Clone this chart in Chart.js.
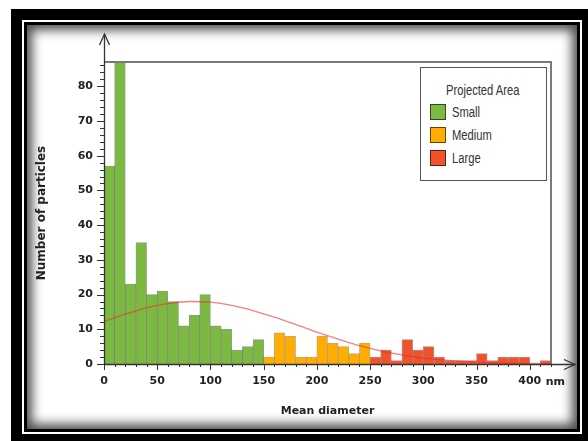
<!DOCTYPE html>
<html><head><meta charset="utf-8">
<script src="https://cdn.jsdelivr.net/npm/chart.js@4.4.1/dist/chart.umd.min.js"></script>
<style>
html,body{margin:0;padding:0;background:#fff;width:588px;height:441px;overflow:hidden;}
#outer{position:absolute;left:11px;top:9px;width:577px;height:432px;background:#000;}
#gap{position:absolute;left:22px;top:20px;width:560px;height:414px;background:#fff;}
#inner{position:absolute;left:24px;top:22px;width:550px;height:404px;border:3px solid #000;background:#fff;box-shadow:inset 0 0 11px 5px rgba(0,0,0,0.7);}
#c{position:absolute;left:0;top:0;}
#legend{position:absolute;left:420px;top:67px;width:125px;height:112px;border:1px solid #555;background:#fff;font-family:"Liberation Sans",Arial,sans-serif;font-size:14px;color:#333;}
#legend .t{position:absolute;left:25px;top:14px;line-height:16px;white-space:nowrap;transform:scaleX(0.8);transform-origin:left center;}
#legend .it{position:absolute;left:9px;height:16px;line-height:16px;white-space:nowrap;}
#legend .sw{position:absolute;left:0;top:0;width:14px;height:14px;border:1px solid rgba(0,0,0,0.6);}
#legend .lb{position:absolute;left:22px;top:0;transform:scaleX(0.8);transform-origin:left center;}
</style></head>
<body>
<div id="outer"></div><div id="gap"></div><div id="inner"></div>
<canvas id="c" width="588" height="441"></canvas>
<div id="legend">
  <div class="t">Projected Area</div>
  <div class="it" style="top:36px"><span class="sw" style="background:#7cb940"></span><span class="lb">Small</span></div>
  <div class="it" style="top:59px"><span class="sw" style="background:#ffad00"></span><span class="lb">Medium</span></div>
  <div class="it" style="top:82px"><span class="sw" style="background:#f0522b"></span><span class="lb">Large</span></div>
</div>
<script>
// ---- data ----
const binWidth = 10;
const smallStart = 0;
const mediumStart = 150;
const largeStart = 250;
const smallCounts = [57, 87, 23, 35, 20, 21, 18, 11, 14, 20, 11, 10, 4, 5, 7];
const mediumCounts = [2, 9, 8, 2, 2, 8, 6, 5, 3, 6];
const largeCounts = [2, 4, 1, 7, 4, 5, 2, 1, 1, 1, 3, 1, 2, 2, 2, 0, 1];
const curveX = [0, 20, 40, 60, 80, 100, 120, 140, 160, 180, 200, 220, 240, 260, 280, 300, 320, 340, 360, 380, 400, 420];
const curveY = [12.3, 14.4, 16.2, 17.4, 18.0, 17.8, 16.9, 15.4, 13.5, 11.4, 9.2, 7.2, 5.3, 3.8, 2.6, 1.7, 1.1, 0.7, 0.4, 0.25, 0.15, 0.1];
const xTickLabels = [0, 50, 100, 150, 200, 250, 300, 350, 400];
const yTickLabels = [0, 10, 20, 30, 40, 50, 60, 70, 80];
const seriesNames = ['Small', 'Medium', 'Large'];
const xTitle = 'Mean diameter';
const yTitle = 'Number of particles';
const xUnit = 'nm';

function toBars(start, counts) {
  const out = [];
  counts.forEach((c, i) => { if (c > 0) out.push({x: start + binWidth * (i + 0.5), y: c}); });
  return out;
}
const curve = curveX.map((x, i) => ({x: x, y: curveY[i]}));

const tickFont = {family: 'DejaVu Sans', size: 11, weight: 'bold'};

const axesPlugin = {
  id: 'axesPlugin',
  afterDraw(chart) {
    const ctx = chart.ctx, ca = chart.chartArea;
    const xs = chart.scales.x, ys = chart.scales.y;
    const L = Math.round(ca.left), R = Math.round(ca.right), T = Math.round(ca.top), B = Math.round(ca.bottom);
    ctx.save();
    ctx.strokeStyle = '#7a7a7a'; ctx.lineWidth = 2;
    ctx.beginPath(); ctx.moveTo(L, T); ctx.lineTo(R, T); ctx.lineTo(R, B); ctx.stroke();
    ctx.strokeStyle = '#333'; ctx.lineWidth = 1.3;
    ctx.beginPath(); ctx.moveTo(L + 0.5, B); ctx.lineTo(L + 0.5, 34); ctx.stroke();
    ctx.beginPath(); ctx.moveTo(L - 4.5, 45); ctx.lineTo(L + 0.5, 34); ctx.lineTo(L + 5.5, 45); ctx.stroke();
    ctx.beginPath(); ctx.moveTo(L, B + 0.5); ctx.lineTo(575, B + 0.5); ctx.stroke();
    ctx.beginPath(); ctx.moveTo(564, B - 4.5); ctx.lineTo(575, B + 0.5); ctx.lineTo(564, B + 5.5); ctx.stroke();
    ctx.lineWidth = 1; ctx.strokeStyle = '#333';
    ctx.beginPath();
    for (let v = 0; v <= xs.max; v += 10) {
      const px = Math.round(xs.getPixelForValue(v)) + 0.5;
      const len = (v % 50 === 0) ? 6 : 3;
      ctx.moveTo(px, B); ctx.lineTo(px, B + len);
    }
    for (let v = 0; v <= ys.max; v += 2) {
      const py = Math.round(ys.getPixelForValue(v)) + 0.5;
      const len = (v % 10 === 0) ? 7 : 4;
      ctx.moveTo(L, py); ctx.lineTo(L - len, py);
    }
    ctx.stroke();
    ctx.fillStyle = '#222';
    ctx.font = 'bold 11px "DejaVu Sans"';
    ctx.textBaseline = 'middle'; ctx.textAlign = 'left';
    ctx.fillText(xUnit, xs.getPixelForValue(400) + 16, 382);
    ctx.font = 'bold 11px "DejaVu Sans"';
    ctx.textAlign = 'center';
    ctx.fillText(xTitle, (L + R) / 2, 411);
    ctx.save();
    ctx.translate(42, (T + B) / 2);
    ctx.rotate(-Math.PI / 2);
    ctx.font = 'bold 12px "DejaVu Sans"';
    ctx.fillText(yTitle, 0, 0);
    ctx.restore();
    ctx.restore();
  }
};

const barCommon = {grouped: false, barPercentage: 1, categoryPercentage: 1, borderWidth: 1, order: 1};

new Chart(document.getElementById('c').getContext('2d'), {
  type: 'bar',
  data: {
    datasets: [
      {type: 'line', label: 'fit', data: curve, borderColor: 'rgba(235,45,45,0.6)', borderWidth: 1.3,
       pointRadius: 0, fill: false, cubicInterpolationMode: 'monotone', order: 0},
      Object.assign({label: seriesNames[0], data: toBars(smallStart, smallCounts), backgroundColor: '#7cb940', borderColor: 'rgba(50,80,20,0.55)'}, barCommon),
      Object.assign({label: seriesNames[1], data: toBars(mediumStart, mediumCounts), backgroundColor: '#ffad00', borderColor: 'rgba(150,95,0,0.55)'}, barCommon),
      Object.assign({label: seriesNames[2], data: toBars(largeStart, largeCounts), backgroundColor: '#f0522b', borderColor: 'rgba(140,40,15,0.55)'}, barCommon)
    ]
  },
  options: {
    responsive: false, animation: false, devicePixelRatio: 1,
    layout: {padding: {left: 0, top: 62, right: 37, bottom: 0}},
    plugins: {legend: {display: false}, tooltip: {enabled: false}},
    scales: {
      x: {type: 'linear', min: 0, max: 420, offset: false,
          grid: {display: false, drawTicks: false}, border: {display: false},
          ticks: {autoSkip: false, maxRotation: 0, padding: 11, color: '#222', font: tickFont},
          afterBuildTicks: s => { s.ticks = xTickLabels.map(v => ({value: v})); },
          afterFit: s => { s.height = 77; }},
      y: {min: 0, max: 87,
          grid: {display: false, drawTicks: false}, border: {display: false},
          ticks: {autoSkip: false, padding: 11, color: '#222', font: tickFont},
          afterBuildTicks: s => { s.ticks = yTickLabels.map(v => ({value: v})); },
          afterFit: s => { s.width = 104; }}
    }
  },
  plugins: [axesPlugin]
});
</script>
</body></html>
